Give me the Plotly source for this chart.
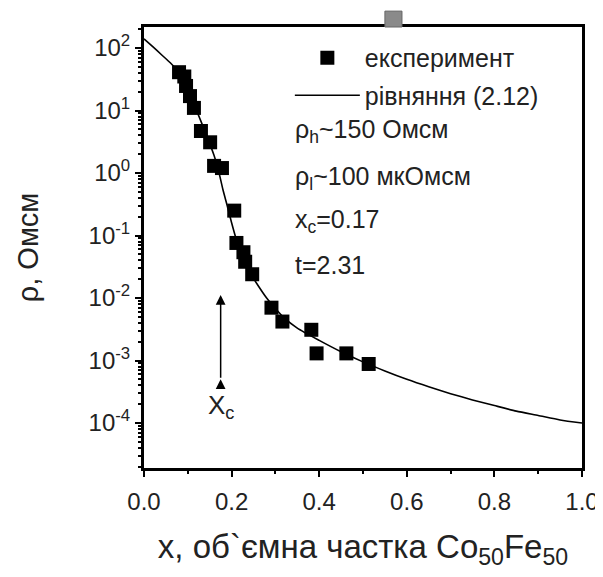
import plotly.graph_objects as go
import numpy as np

# Experimental data (volume fraction x, resistivity rho in Ohm*cm)
exp_x = [0.080, 0.092, 0.096, 0.105, 0.114, 0.130, 0.151, 0.160, 0.178,
         0.206, 0.211, 0.227, 0.231, 0.247,
         0.291, 0.316, 0.382, 0.394, 0.462, 0.513]
exp_rho = [41, 35, 24.7, 17, 11, 4.7, 3.1, 1.3, 1.2,
           0.25, 0.076, 0.054, 0.038, 0.024,
           0.0070, 0.0042, 0.0031, 0.0013, 0.0013, 0.00088]

# Curve "equation (2.12)"
fit_x = [0.0, 0.02, 0.04, 0.06, 0.08, 0.10, 0.12, 0.14, 0.16, 0.17, 0.18,
         0.19, 0.20, 0.21, 0.22, 0.24, 0.26, 0.28, 0.30, 0.32, 0.35, 0.40,
         0.45, 0.50, 0.55, 0.60, 0.65, 0.70, 0.75, 0.80, 0.85, 0.90, 0.95, 1.00]
fit_rho = [140, 105, 78, 58, 40, 22, 10, 4.5, 1.9, 1.1, 0.55,
           0.30, 0.16, 0.09, 0.055, 0.027, 0.016, 0.010, 0.0068, 0.0048, 0.0033, 0.0021,
           0.00138, 0.00095, 0.00068, 0.0005, 0.00038, 0.000295, 0.000234, 0.00019,
           0.000155, 0.000132, 0.000112, 0.0001]

x_tick_vals = [0.0, 0.2, 0.4, 0.6, 0.8, 1.0]
x_tick_text = ["0.0", "0.2", "0.4", "0.6", "0.8", "1.0"]
y_tick_vals = [1e-4, 1e-3, 1e-2, 1e-1, 1e0, 1e1, 1e2]
y_tick_text = ["10<sup>-4</sup>", "10<sup>-3</sup>", "10<sup>-2</sup>", "10<sup>-1</sup>",
               "10<sup>0</sup>", "10<sup>1</sup>", "10<sup>2</sup>"]

params = ["ρ<sub>h</sub>~150 Омсм", "ρ<sub>l</sub>~100 мкОмсм", "x<sub>c</sub>=0.17", "t=2.31"]
param_y = [0.764, 0.658, 0.560, 0.460]

arrow_x = 0.175
arrow_top = 0.0112
arrow_bottom = 0.0005

FONT = "Liberation Sans, Arial, sans-serif"
TXT = "#222222"

fig = go.Figure()
fig.add_trace(go.Scatter(
    x=exp_x, y=exp_rho, mode="markers", name="експеримент",
    legendgroup="a",
    marker=dict(symbol="square", size=14, color="black", line=dict(width=0)),
))
fig.add_trace(go.Scatter(
    x=fit_x, y=fit_rho, mode="lines", name="рівняння (2.12)",
    legendgroup="b",
    line=dict(color="black", width=1.6, shape="spline", smoothing=0.6),
))

annotations = []
for t, yy in zip(params, param_y):
    annotations.append(dict(
        text=t, xref="paper", yref="paper", x=0.340, y=yy,
        xanchor="left", yanchor="middle", showarrow=False,
        font=dict(family=FONT, size=25, color=TXT),
    ))
# x_c arrow
annotations.append(dict(
    x=arrow_x, y=np.log10(arrow_top), xref="x", yref="y",
    ax=arrow_x, ay=np.log10(arrow_bottom), axref="x", ayref="y",
    text="", showarrow=True, arrowhead=2, arrowsize=1.3, arrowwidth=1.5,
    arrowcolor="black",
))
annotations.append(dict(
    x=arrow_x, y=np.log10(arrow_bottom), xref="x", yref="y",
    ax=0, ay=6, text="", showarrow=True, arrowhead=2, arrowsize=1.3,
    arrowwidth=1.5, arrowcolor="black",
))
annotations.append(dict(
    text="X<sub>c</sub>", x=arrow_x, y=np.log10(arrow_bottom), xref="x", yref="y",
    yshift=-27, showarrow=False, font=dict(family=FONT, size=26, color=TXT),
))

# the page adds an 8px body margin, so the figure is offset by 8px
fig.update_layout(
    width=595, height=569,
    margin=dict(l=136, r=21, t=19, b=109, autoexpand=False),
    paper_bgcolor="white", plot_bgcolor="white",
    font=dict(family=FONT, color=TXT),
    showlegend=True,
    legend=dict(
        x=0.333, y=0.982, xanchor="left", yanchor="top",
        bgcolor="rgba(0,0,0,0)", font=dict(family=FONT, size=25, color=TXT),
        itemwidth=65, tracegroupgap=2, traceorder="grouped",
    ),
    annotations=annotations,
    shapes=[dict(type="rect", xref="paper", yref="paper",
                 x0=0.550, x1=0.589, y0=1.0, y1=1.036,
                 fillcolor="#8a8a8a", line=dict(color="#666666", width=1))],
)

fig.update_xaxes(
    range=[0, 1], tickvals=x_tick_vals, ticktext=x_tick_text,
    ticks="outside", ticklen=6, tickwidth=2, tickcolor="black",
    minor=dict(ticks="outside", ticklen=3, tickwidth=2, dtick=0.1, tickcolor="black"),
    showline=True, linewidth=3, linecolor="black", mirror=True,
    showgrid=False, zeroline=False, automargin=False,
    ticklabelstandoff=4,
    tickfont=dict(family=FONT, size=24, color=TXT),
    title=dict(text="x, об`ємна частка Co<sub>50</sub>Fe<sub>50</sub>",
               font=dict(family=FONT, size=33, color=TXT), standoff=22),
)
fig.update_yaxes(
    type="log", range=[-4.72, 2.336], tickvals=y_tick_vals, ticktext=y_tick_text,
    ticks="outside", ticklen=6, tickwidth=2, tickcolor="black",
    minor=dict(ticks="outside", ticklen=3, tickwidth=1.5, dtick="D1", tickcolor="black"),
    showline=True, linewidth=3, linecolor="black", mirror=True,
    showgrid=False, zeroline=False, automargin=False,
    tickfont=dict(family=FONT, size=24, color=TXT),
    title=dict(text="ρ, Омсм", font=dict(family=FONT, size=29, color=TXT), standoff=42),
)

fig.write_html("out.html")
